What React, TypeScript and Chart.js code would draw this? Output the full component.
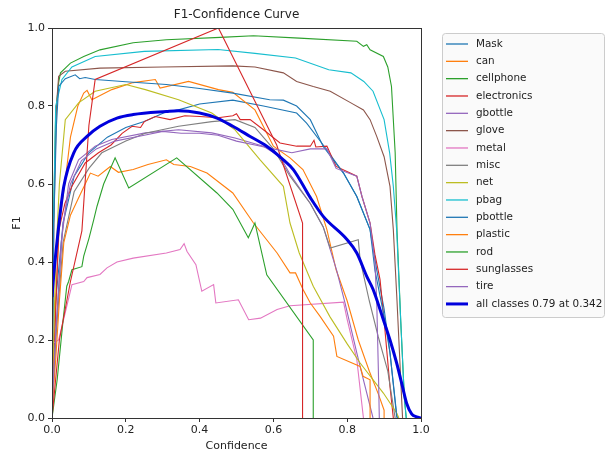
import { useEffect, useRef } from "react";
import { Chart, registerables } from "chart.js";

Chart.register(...registerables);

const chartTitle = "F1-Confidence Curve";
const xTitle = "Confidence";
const yTitle = "F1";
const axisTicks = [0, 0.2, 0.4, 0.6, 0.8, 1.0];

const classNames = [
  "Mask", "can", "cellphone", "electronics", "gbottle", "glove", "metal", "misc",
  "net", "pbag", "pbottle", "plastic", "rod", "sunglasses", "tire",
];
const classColors = [
  "#1f77b4", "#ff7f0e", "#2ca02c", "#d62728", "#9467bd", "#8c564b", "#e377c2", "#7f7f7f",
  "#bcbd22", "#17becf", "#1f77b4", "#ff7f0e", "#2ca02c", "#d62728", "#9467bd",
];
const allLabel = "all classes 0.79 at 0.342";
const allColor = "#0000dd";

// [confidence, F1]
const mask = [[0, 0.05], [0.01, 0.3], [0.03, 0.5], [0.06, 0.62], [0.1, 0.68], [0.15, 0.72], [0.2, 0.745], [0.25, 0.76], [0.31, 0.785], [0.343, 0.79], [0.4, 0.805], [0.49, 0.815], [0.573, 0.8], [0.663, 0.782], [0.69, 0.756], [0.735, 0.7], [0.79, 0.628], [0.826, 0.568], [0.862, 0.483], [0.88, 0.38], [0.9, 0.28], [0.916, 0.167], [0.934, 0.01], [0.936, 0]];
const can = [[0, 0.05], [0.01, 0.3], [0.02, 0.5], [0.036, 0.61], [0.05, 0.72], [0.07, 0.8], [0.086, 0.833], [0.095, 0.84], [0.108, 0.816], [0.162, 0.842], [0.22, 0.86], [0.28, 0.868], [0.293, 0.846], [0.37, 0.863], [0.451, 0.842], [0.49, 0.835], [0.55, 0.79], [0.6, 0.697], [0.645, 0.667], [0.68, 0.637], [0.717, 0.568], [0.745, 0.483], [0.77, 0.38], [0.8, 0.3], [0.83, 0.2], [0.86, 0.12], [0.885, 0.06], [0.9, 0.02], [0.9, 0]];
const cellphone = [[0, 0.05], [0.004, 0.5], [0.01, 0.78], [0.018, 0.86], [0.023, 0.885], [0.05, 0.91], [0.086, 0.927], [0.13, 0.944], [0.22, 0.962], [0.31, 0.97], [0.456, 0.976], [0.546, 0.98], [0.67, 0.974], [0.826, 0.966], [0.844, 0.953], [0.853, 0.957], [0.862, 0.944], [0.898, 0.927], [0.91, 0.9], [0.92, 0.85], [0.93, 0.68], [0.935, 0.48], [0.945, 0.25], [0.955, 0.05], [0.96, 0]];
const electronics = [[0, 0], [0.009, 0.25], [0.018, 0.48], [0.035, 0.55], [0.054, 0.594], [0.09, 0.654], [0.126, 0.68], [0.16, 0.7], [0.19, 0.73], [0.217, 0.748], [0.24, 0.745], [0.25, 0.76], [0.28, 0.773], [0.32, 0.765], [0.36, 0.775], [0.4, 0.773], [0.45, 0.77], [0.49, 0.775], [0.5, 0.78], [0.51, 0.765], [0.537, 0.765], [0.573, 0.739], [0.618, 0.705], [0.663, 0.697], [0.7, 0.697], [0.71, 0.712], [0.715, 0.695], [0.745, 0.697], [0.77, 0.645], [0.808, 0.628], [0.826, 0.62], [0.84, 0.568], [0.862, 0.5], [0.875, 0.42], [0.889, 0.355], [0.9, 0.25], [0.916, 0.08], [0.925, 0]];
const gbottle = [[0, 0.02], [0.01, 0.2], [0.025, 0.45], [0.045, 0.6], [0.072, 0.662], [0.117, 0.697], [0.162, 0.714], [0.253, 0.731], [0.343, 0.739], [0.433, 0.731], [0.496, 0.718], [0.573, 0.697], [0.618, 0.67], [0.645, 0.625], [0.7, 0.55], [0.735, 0.49], [0.771, 0.38], [0.794, 0.295], [0.826, 0.167], [0.844, 0.098], [0.87, 0]];
const glove = [[0, 0.05], [0.005, 0.5], [0.012, 0.8], [0.018, 0.876], [0.036, 0.889], [0.13, 0.897], [0.3, 0.9], [0.49, 0.903], [0.55, 0.9], [0.627, 0.885], [0.663, 0.863], [0.708, 0.85], [0.754, 0.838], [0.81, 0.808], [0.844, 0.79], [0.862, 0.765], [0.88, 0.722], [0.9, 0.67], [0.916, 0.594], [0.925, 0.483], [0.935, 0.3], [0.945, 0.1], [0.95, 0]];
const metal = [[0, 0.19], [0.018, 0.2], [0.027, 0.235], [0.04, 0.286], [0.054, 0.342], [0.086, 0.35], [0.095, 0.36], [0.13, 0.368], [0.149, 0.385], [0.176, 0.4], [0.22, 0.41], [0.31, 0.423], [0.347, 0.432], [0.358, 0.447], [0.366, 0.427], [0.39, 0.393], [0.406, 0.325], [0.438, 0.342], [0.444, 0.295], [0.505, 0.303], [0.533, 0.252], [0.565, 0.256], [0.61, 0.278], [0.645, 0.288], [0.79, 0.297], [0.8, 0.252], [0.826, 0.15], [0.844, 0]];
const misc = [[0, 0.02], [0.01, 0.2], [0.03, 0.45], [0.06, 0.58], [0.1, 0.64], [0.135, 0.68], [0.2, 0.71], [0.253, 0.73], [0.343, 0.748], [0.433, 0.76], [0.496, 0.765], [0.55, 0.745], [0.6, 0.69], [0.645, 0.62], [0.7, 0.55], [0.735, 0.49], [0.754, 0.436], [0.83, 0.457], [0.835, 0.406], [0.86, 0.3], [0.884, 0.209], [0.91, 0.12], [0.93, 0]];
const net = [[0, 0.05], [0.01, 0.4], [0.02, 0.6], [0.036, 0.765], [0.072, 0.808], [0.117, 0.838], [0.2, 0.855], [0.253, 0.842], [0.343, 0.816], [0.433, 0.782], [0.496, 0.739], [0.564, 0.662], [0.627, 0.594], [0.645, 0.5], [0.67, 0.423], [0.708, 0.338], [0.753, 0.26], [0.8, 0.19], [0.835, 0.141], [0.898, 0.064], [0.934, 0.013], [0.94, 0]];
const pbag = [[0, 0.3], [0.01, 0.8], [0.027, 0.868], [0.054, 0.9], [0.117, 0.927], [0.25, 0.94], [0.45, 0.945], [0.55, 0.935], [0.66, 0.923], [0.75, 0.893], [0.81, 0.885], [0.845, 0.863], [0.87, 0.838], [0.9, 0.765], [0.915, 0.68], [0.925, 0.594], [0.934, 0.483], [0.945, 0.25], [0.955, 0.05], [0.96, 0]];
const pbottle = [[0, 0.05], [0.005, 0.5], [0.012, 0.75], [0.018, 0.85], [0.036, 0.87], [0.063, 0.88], [0.075, 0.87], [0.09, 0.873], [0.117, 0.868], [0.2, 0.862], [0.31, 0.855], [0.4, 0.845], [0.49, 0.833], [0.59, 0.816], [0.627, 0.815], [0.663, 0.8], [0.7, 0.765], [0.735, 0.696], [0.79, 0.628], [0.826, 0.568], [0.862, 0.483], [0.875, 0.38], [0.9, 0.26], [0.916, 0.167], [0.934, 0.004], [0.936, 0]];
const plastic = [[0, 0.02], [0.01, 0.15], [0.02, 0.3], [0.032, 0.45], [0.05, 0.52], [0.07, 0.56], [0.09, 0.6], [0.104, 0.628], [0.125, 0.62], [0.158, 0.645], [0.18, 0.63], [0.22, 0.637], [0.26, 0.65], [0.31, 0.662], [0.33, 0.65], [0.375, 0.645], [0.42, 0.628], [0.49, 0.577], [0.546, 0.5], [0.61, 0.423], [0.645, 0.372], [0.66, 0.372], [0.68, 0.33], [0.7, 0.295], [0.727, 0.26], [0.763, 0.21], [0.772, 0.158], [0.835, 0.132], [0.843, 0.107], [0.862, 0.098], [0.862, 0]];
const rod = [[0, 0], [0.014, 0.098], [0.03, 0.25], [0.04, 0.338], [0.045, 0.35], [0.054, 0.38], [0.081, 0.388], [0.086, 0.415], [0.1, 0.46], [0.113, 0.508], [0.122, 0.543], [0.14, 0.6], [0.171, 0.667], [0.208, 0.59], [0.338, 0.667], [0.447, 0.577], [0.49, 0.535], [0.532, 0.462], [0.55, 0.5], [0.582, 0.367], [0.708, 0.2], [0.708, 0]];
const sunglasses = [[0, 0], [0.02, 0.2], [0.05, 0.35], [0.081, 0.48], [0.1, 0.75], [0.117, 0.868], [0.451, 1.0], [0.609, 0.7], [0.679, 0.5], [0.679, 0]];
const tire = [[0, 0.02], [0.01, 0.22], [0.03, 0.5], [0.05, 0.6], [0.08, 0.66], [0.12, 0.69], [0.17, 0.71], [0.25, 0.725], [0.3, 0.735], [0.35, 0.73], [0.4, 0.73], [0.45, 0.725], [0.5, 0.71], [0.55, 0.7], [0.6, 0.69], [0.65, 0.68], [0.7, 0.69], [0.745, 0.69], [0.77, 0.64], [0.826, 0.62], [0.84, 0.568], [0.862, 0.5], [0.875, 0.4], [0.88, 0.3], [0.885, 0.1], [0.887, 0]];
const allClasses = [[0, 0.31], [0.005, 0.37], [0.01, 0.42], [0.018, 0.491], [0.032, 0.594], [0.059, 0.68], [0.095, 0.722], [0.13, 0.748], [0.176, 0.769], [0.22, 0.778], [0.31, 0.786], [0.342, 0.788], [0.4, 0.782], [0.447, 0.769], [0.49, 0.748], [0.537, 0.722], [0.582, 0.697], [0.627, 0.662], [0.654, 0.637], [0.7, 0.565], [0.735, 0.517], [0.8, 0.457], [0.826, 0.423], [0.853, 0.363], [0.87, 0.33], [0.898, 0.252], [0.916, 0.2], [0.934, 0.141], [0.95, 0.08], [0.961, 0.038], [0.975, 0.01], [0.988, 0.003], [1.0, 0]];

const classSeries = [mask, can, cellphone, electronics, gbottle, glove, metal, misc, net, pbag, pbottle, plastic, rod, sunglasses, tire];

const FONT = "'DejaVu Sans', sans-serif";

export default function App() {
  const ref = useRef<HTMLCanvasElement>(null);

  useEffect(() => {
    document.body.style.margin = "0";
    const canvas = ref.current;
    if (!canvas) return;

    const datasets: any[] = classSeries.map((s, i) => ({
      label: classNames[i],
      data: s.map(([x, y]) => ({ x, y })),
      borderColor: classColors[i],
      backgroundColor: classColors[i],
      borderWidth: 1.1,
      pointRadius: 0,
      fill: false,
      tension: 0,
      order: 100 - i,
    }));
    datasets.push({
      label: allLabel,
      data: allClasses.map(([x, y]) => ({ x, y })),
      borderColor: allColor,
      backgroundColor: allColor,
      borderWidth: 3,
      pointRadius: 0,
      fill: false,
      cubicInterpolationMode: "monotone",
      order: 0,
    });

    const decor = {
      id: "decor",
      afterDraw(chart: any) {
        const ctx = chart.ctx;
        const a = chart.chartArea;
        ctx.save();
        // frame
        ctx.strokeStyle = "#333";
        ctx.lineWidth = 1;
        ctx.strokeRect(Math.round(a.left) + 0.5, Math.round(a.top) + 0.5, Math.round(a.right - a.left), Math.round(a.bottom - a.top));
        // title
        ctx.fillStyle = "#222";
        ctx.font = `12px ${FONT}`;
        ctx.textAlign = "center";
        ctx.textBaseline = "middle";
        ctx.fillText(chartTitle, (a.left + a.right) / 2, 15);
        // legend
        const bx = 442.5, by = 33.5, bw = 162, bh = 284;
        ctx.fillStyle = "#fafafa";
        ctx.strokeStyle = "#cccccc";
        ctx.beginPath();
        const r = 3;
        ctx.moveTo(bx + r, by);
        ctx.lineTo(bx + bw - r, by);
        ctx.quadraticCurveTo(bx + bw, by, bx + bw, by + r);
        ctx.lineTo(bx + bw, by + bh - r);
        ctx.quadraticCurveTo(bx + bw, by + bh, bx + bw - r, by + bh);
        ctx.lineTo(bx + r, by + bh);
        ctx.quadraticCurveTo(bx, by + bh, bx, by + bh - r);
        ctx.lineTo(bx, by + r);
        ctx.quadraticCurveTo(bx, by, bx + r, by);
        ctx.closePath();
        ctx.fill();
        ctx.stroke();
        ctx.font = `10.4px ${FONT}`;
        ctx.textAlign = "left";
        chart.data.datasets.forEach((ds: any, i: number) => {
          const y = 44 + i * 17.33;
          ctx.strokeStyle = ds.borderColor;
          ctx.lineWidth = ds.borderWidth === 3 ? 3 : 1.3;
          ctx.beginPath();
          ctx.moveTo(446, y);
          ctx.lineTo(468, y);
          ctx.stroke();
          ctx.fillStyle = "#222";
          ctx.fillText(ds.label, 476, y);
        });
        ctx.restore();
      },
    };

    const tickCb = (v: any) => Number(v).toFixed(1);
    const chart = new Chart(canvas, {
      type: "line",
      data: { datasets },
      options: {
        animation: false,
        responsive: false,
        devicePixelRatio: 1,
        layout: { padding: { left: 0, right: 189, top: 28, bottom: 0 } },
        plugins: { legend: { display: false }, title: { display: false }, tooltip: { enabled: false } },
        scales: {
          x: {
            type: "linear",
            min: 0,
            max: 1,
            afterBuildTicks: (s: any) => { s.ticks = axisTicks.map((v) => ({ value: v })); },
            afterFit: (s: any) => { s.height = 35; },
            ticks: { callback: tickCb, color: "#222", font: { family: FONT, size: 11 }, padding: 2, maxRotation: 0 },
            grid: { display: true, drawOnChartArea: false, drawTicks: true, tickLength: 4, color: "#333" },
            border: { display: true, color: "#333" },
            title: { display: true, text: xTitle, color: "#222", font: { family: FONT, size: 11 }, padding: { top: 0, bottom: 0 } },
          },
          y: {
            type: "linear",
            min: 0,
            max: 1,
            afterBuildTicks: (s: any) => { s.ticks = axisTicks.map((v) => ({ value: v })); },
            afterFit: (s: any) => { s.width = 52; },
            ticks: { callback: tickCb, color: "#222", font: { family: FONT, size: 11 }, padding: 3 },
            grid: { display: true, drawOnChartArea: false, drawTicks: true, tickLength: 4, color: "#333" },
            border: { display: true, color: "#333" },
            title: { display: true, text: yTitle, color: "#222", font: { family: FONT, size: 11 }, padding: { top: 11, bottom: 0 } },
          },
        },
      } as any,
      plugins: [decor],
    });
    return () => chart.destroy();
  }, []);

  return (
    <div style={{ width: 610, height: 453, position: "relative" }}>
      <canvas ref={ref} width={610} height={453} />
    </div>
  );
}
